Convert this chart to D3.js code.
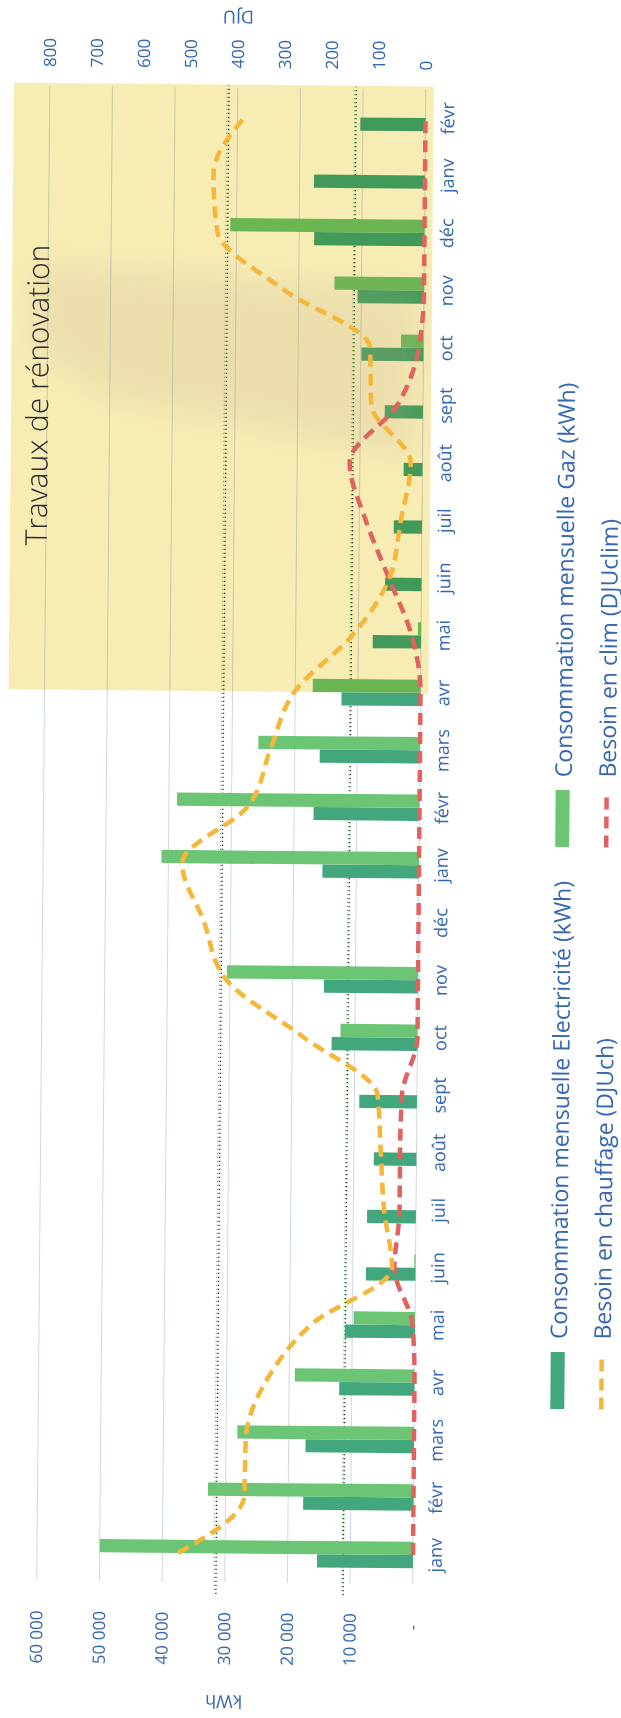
<!DOCTYPE html>
<html>
<head>
<meta charset="utf-8">
<script src="https://cdn.jsdelivr.net/npm/d3@7"></script>
<style>
body { margin: 0; background: #fff; }
svg { display: block; font-family: "Open Sans", sans-serif; }
</style>
</head>
<body>
<div id="chart"></div>
<script>
// Data (two heating seasons + start of a third)

var months = ["janv", "févr", "mars", "avr", "mai", "juin", "juil", "août", "sept", "oct", "nov", "déc",
              "janv", "févr", "mars", "avr", "mai", "juin", "juil", "août", "sept", "oct", "nov", "déc",
              "janv", "févr"];

// kWh
var elec = [15300, 17600, 17300, 12000, 11200, 7900, 7800, 6800, 9200, 13700, 15000, null,
            15400, 16900, 16000, 12600, 7700, 5800, 4500, 3000, 6100, 9900, 10600, 17600,
            17700, 10400];
var gaz = [50000, 32800, 28200, 19100, 9800, 200, 0, 0, 0, 12300, 30500, null,
           41100, 38700, 25800, 17200, 500, 0, 0, 0, 0, 3600, 14300, 31000,
           null, null];

// DJU
var dju_ch = [500, 360, 358, 316, 220, 50, 68, 76, 84, 244, 410, 457,
              504, 365, 318, 268, 145, 68, 45, 25, 110, 114, 300, 441,
              450, 384];
var dju_clim = [0, 0, 0, 0, 5, 45, 35, 35, 32, 0, 0, 0,
                0, 0, 0, 0, 20, 70, 120, 155, 55, 10, 0, 0,
                0, 0];

var kwh_ticks = [0, 10000, 20000, 30000, 40000, 50000, 60000];
var dju_ticks = [0, 100, 200, 300, 400, 500, 600, 700, 800];

// dotted reference lines (kWh)
var ref_black = [31400, 11100];
var ref_green = [31700, 11300];

var works_from = 15;   // "Travaux de rénovation" starts mid avr (2nd year)
var works_label = "Travaux de rénovation";

var legend_items = [
    { label: "Consommation mensuelle Electricité (kWh)", kind: "bar", key: "elec" },
    { label: "Consommation mensuelle Gaz (kWh)", kind: "bar", key: "gaz" },
    { label: "Besoin en chauffage (DJUch)", kind: "line", key: "ch" },
    { label: "Besoin en clim (DJUclim)", kind: "line", key: "clim" }
];

// Layout

var width = 621, height = 1718;
var plot_w = 1494.5, plot_h = 376;
var origin = [36.75, 1580.5];
var angle = -89.5;   // the scan is turned a bit less than a quarter turn

var colors = {
    elec: "#43a77d",
    gaz: "#6cc574",
    ch: "#f4b73a",
    clim: "#e06360",
    text: "#3467b2",
    grid: "#cdd7e8"
};

var svg = d3.select("#chart").append("svg")
    .attr("width", width)
    .attr("height", height);

svg.append("defs").append("filter")
    .attr("id", "soft")
    .attr("x", "-50%").attr("y", "-50%")
    .attr("width", "200%").attr("height", "200%")
  .append("feGaussianBlur")
    .attr("stdDeviation", 14);

svg.append("rect")
    .attr("width", width)
    .attr("height", height)
    .attr("fill", "#fff");

var g = svg.append("g")
    .attr("transform", "translate(" + origin[0] + "," + origin[1] + ") rotate(" + angle + ")");

var x = d3.scaleBand()
    .domain(d3.range(months.length))
    .range([0, plot_w])
    .paddingInner(0.54)
    .paddingOuter(0.27);

var xs = d3.scaleBand()
    .domain(["elec", "gaz"])
    .range([0, x.bandwidth()]);

var y_kwh = d3.scaleLinear().domain([0, 60000]).range([plot_h, 0]);
var y_dju = d3.scaleLinear().domain([0, 800]).range([plot_h, 0]);

var mid = function(i) { return x(i) + x.bandwidth() / 2; };
var pos = function(t) { return x.step() * (t + 0.5); };   // fractional month position

// grid
g.append("g").selectAll("line")
    .data(kwh_ticks)
    .enter().append("line")
    .attr("x1", 0).attr("x2", plot_w)
    .attr("y1", y_kwh).attr("y2", y_kwh)
    .attr("stroke", colors.grid)
    .attr("stroke-width", 1);

// dotted reference lines
g.append("g").selectAll("line")
    .data(ref_black)
    .enter().append("line")
    .attr("x1", -12).attr("x2", plot_w + 2)
    .attr("y1", y_kwh).attr("y2", y_kwh)
    .attr("stroke", "#2b2b2b")
    .attr("stroke-width", 1.3)
    .attr("stroke-dasharray", "1.3,2.7");

g.append("g").selectAll("line")
    .data(ref_green)
    .enter().append("line")
    .attr("x1", -8).attr("x2", plot_w + 2)
    .attr("y1", y_kwh).attr("y2", y_kwh)
    .attr("stroke", "#6cbf72")
    .attr("stroke-width", 1.3)
    .attr("stroke-dasharray", "1.3,2.7");

// bars
var series = [
    { key: "elec", values: elec },
    { key: "gaz", values: gaz }
];

series.forEach(function(s) {
    g.append("g").selectAll("rect")
        .data(s.values.map(function(v, i) { return { i: i, v: v }; })
                      .filter(function(d) { return d.v !== null && d.v > 0; }))
        .enter().append("rect")
        .attr("x", function(d) { return x(d.i) + xs(s.key); })
        .attr("width", xs.bandwidth())
        .attr("y", function(d) { return y_kwh(d.v); })
        .attr("height", function(d) { return plot_h - y_kwh(d.v); })
        .attr("fill", colors[s.key]);
});

// renovation period, multiplied over the grid and bars
g.append("rect")
    .attr("x", mid(works_from))
    .attr("width", plot_w + 3 - mid(works_from))
    .attr("y", -36)
    .attr("height", plot_h + 44)
    .attr("fill", "#f8ecb5")
    .style("mix-blend-mode", "multiply");

// faint scanner smudge inside the yellow area, clipped to it
var clip = svg.select("defs").append("clipPath").attr("id", "works-clip");
clip.append("rect")
    .attr("x", mid(works_from))
    .attr("width", plot_w + 3 - mid(works_from))
    .attr("y", -36)
    .attr("height", plot_h + 44);

var smudge = [[22.4, 62000], [22.0, 1000], [19.1, 1000], [20.1, 50000], [20.9, 62000]];
g.append("g")
    .attr("clip-path", "url(#works-clip)")
  .append("path")
    .attr("d", d3.line()
        .x(function(d) { return pos(d[0]); })
        .y(function(d) { return y_kwh(d[1]); })
        .curve(d3.curveLinearClosed)(smudge))
    .attr("fill", "#bcae8c")
    .attr("opacity", 0.2)
    .attr("filter", "url(#soft)")
    .style("mix-blend-mode", "multiply");

// DJU lines
var dju_line = d3.line()
    .x(function(d, i) { return mid(i); })
    .y(function(d) { return y_dju(d); })
    .curve(d3.curveMonotoneX);

g.append("path")
    .attr("d", dju_line(dju_clim))
    .attr("fill", "none")
    .attr("stroke", colors.clim)
    .attr("stroke-width", 4.5)
    .attr("stroke-dasharray", "12,7");

g.append("path")
    .attr("d", dju_line(dju_ch))
    .attr("fill", "none")
    .attr("stroke", colors.ch)
    .attr("stroke-width", 4.5)
    .attr("stroke-dasharray", "12,7");

g.append("text")
    .attr("x", 1035)
    .attr("y", 1)
    .attr("font-size", 30)
    .attr("font-weight", 300)
    .attr("fill", "#2d2d2d")
    .text(works_label);

// axes
var fmt_kwh = function(v) {
    return v === 0 ? "-" : d3.format(",")(v).replace(/,/g, " ");
};

var ax_left = g.append("g")
    .call(d3.axisLeft(y_kwh).tickValues(kwh_ticks).tickFormat(fmt_kwh).tickSize(0).tickPadding(30));

ax_left.selectAll("text")
    .filter(function(d) { return d === 0; })
    .attr("x", -41);

var ax_right = g.append("g")
    .attr("transform", "translate(" + plot_w + ",0)")
    .call(d3.axisRight(y_dju).tickValues(dju_ticks).tickSize(0).tickPadding(19));

var ax_bottom = g.append("g")
    .attr("transform", "translate(0," + plot_h + ")")
    .call(d3.axisBottom(x).tickFormat(function(i) { return months[i]; }).tickSize(0).tickPadding(16));

[ax_left, ax_right, ax_bottom].forEach(function(ax) {
    ax.select(".domain").remove();
    ax.selectAll("text")
        .attr("fill", colors.text)
        .attr("font-size", 17)
        .attr("font-family", "Open Sans, sans-serif");
});

ax_bottom.selectAll("text").attr("font-size", 18);

// axis titles (upside down on the scan)
g.append("text")
    .attr("transform", "translate(-120," + plot_h / 2 + ") rotate(-90)")
    .attr("text-anchor", "middle")
    .attr("dominant-baseline", "central")
    .attr("font-size", 18)
    .attr("fill", colors.text)
    .text("kWh");

g.append("text")
    .attr("transform", "translate(" + (plot_w + 70) + "," + plot_h / 2 + ") rotate(-90)")
    .attr("text-anchor", "middle")
    .attr("dominant-baseline", "central")
    .attr("font-size", 18)
    .attr("fill", colors.text)
    .text("DJU");

// legend: two rows, two columns
var leg_cols = [176, 738];
var leg_rows = [519, 563];
var swatch_len = 57;

var leg = g.append("g").selectAll("g")
    .data(legend_items)
    .enter().append("g")
    .attr("transform", function(d, i) {
        return "translate(" + leg_cols[i % 2] + "," + leg_rows[Math.floor(i / 2)] + ")";
    });

leg.filter(function(d) { return d.kind === "bar"; })
    .append("rect")
    .attr("x", 0).attr("y", -7)
    .attr("width", swatch_len).attr("height", 14)
    .attr("fill", function(d) { return colors[d.key]; });

leg.filter(function(d) { return d.kind === "line"; })
    .append("line")
    .attr("x1", 0).attr("x2", swatch_len)
    .attr("stroke", function(d) { return colors[d.key]; })
    .attr("stroke-width", 4.5)
    .attr("stroke-dasharray", "12,7");

leg.append("text")
    .attr("x", 70)
    .attr("dominant-baseline", "central")
    .attr("font-size", 23)
    .attr("fill", colors.text)
    .text(function(d) { return d.label; });
</script>
</body>
</html>
